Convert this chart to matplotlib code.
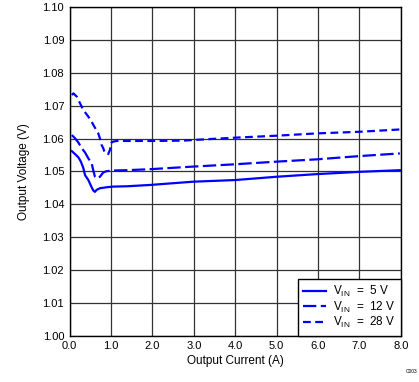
import matplotlib
matplotlib.use("Agg")
import matplotlib.pyplot as plt

plt.rcParams['font.family'] = ['Liberation Sans', 'DejaVu Sans']
plt.rcParams['mathtext.fontset'] = 'custom'
plt.rcParams['mathtext.rm'] = 'Liberation Sans'

# Data (Output current in A, output voltage in V)
i_5v = [0.05, 0.13, 0.21, 0.27, 0.33, 0.37, 0.45, 0.53, 0.57, 0.61, 0.65, 0.73, 0.89, 1.05,
        1.38, 1.94, 2.99, 4.0, 5.0, 5.97, 7.01, 7.98]
v_5v = [1.0562, 1.0553, 1.0543, 1.0530, 1.0510, 1.0489, 1.0474, 1.0452, 1.0442, 1.0438, 1.0444,
        1.0449, 1.0452, 1.0454, 1.0455, 1.0459, 1.0469, 1.0474, 1.0484, 1.0492, 1.0499, 1.0504]

i_12v = [0.05, 0.13, 0.21, 0.29, 0.37, 0.45, 0.53, 0.57, 0.61, 0.65, 0.73, 0.81, 0.89, 1.05,
         1.38, 1.94, 2.99, 4.0, 5.0, 5.97, 7.01, 7.98]
v_12v = [1.0611, 1.0601, 1.0588, 1.0571, 1.0558, 1.0540, 1.0525, 1.0503, 1.0484, 1.0479, 1.0484,
         1.0497, 1.0501, 1.0503, 1.0504, 1.0507, 1.0515, 1.0522, 1.0530, 1.0537, 1.0547, 1.0555]

i_28v = [0.05, 0.09, 0.17, 0.21, 0.29, 0.33, 0.45, 0.53, 0.57, 0.69, 0.73, 0.77, 0.81, 0.85,
         0.93, 0.97, 1.01, 1.05, 1.14, 1.38, 1.94, 2.74, 2.99, 4.0, 5.0, 5.97, 7.01, 7.98]
v_28v = [1.0733, 1.0738, 1.0728, 1.0718, 1.0697, 1.0687, 1.0667, 1.0652, 1.0642, 1.0616, 1.0601,
         1.0581, 1.0571, 1.0556, 1.0553, 1.0565, 1.0588, 1.0591, 1.0593, 1.0593, 1.0593, 1.0594,
         1.0596, 1.0603, 1.0609, 1.0616, 1.0621, 1.0628]

labels = [r'V$_{\mathregular{IN}}$  =  5 V', r'V$_{\mathregular{IN}}$  =  12 V', r'V$_{\mathregular{IN}}$  =  28 V']

x_ticks = [0, 1, 2, 3, 4, 5, 6, 7, 8]
y_ticks = [1.00, 1.01, 1.02, 1.03, 1.04, 1.05, 1.06, 1.07, 1.08, 1.09, 1.10]

fig = plt.figure(figsize=(4.19, 3.82), dpi=100)
ax = fig.add_axes([0.1664, 0.1212, 0.9563 - 0.1664, 0.9809 - 0.1212])

blue = '#0000ff'
lw = 1.6
ax.plot(i_5v, v_5v, color=blue, lw=lw, linestyle='-', label=labels[0])
ax.plot(i_12v, v_12v, color=blue, lw=lw, linestyle=(0, (6, 2)), label=labels[1])
ax.plot(i_28v, v_28v, color=blue, lw=lw, linestyle=(0, (3.5, 2)), label=labels[2])

ax.set_xlim(0, 8)
ax.set_ylim(1.00, 1.10)
ax.set_xticks(x_ticks)
ax.set_xticklabels([f'{v:.1f}' for v in x_ticks])
ax.set_yticks(y_ticks)
ax.set_yticklabels([f'{v:.2f}' for v in y_ticks])
ax.tick_params(axis='both', length=0, labelsize=8, pad=4, colors='black')
ax.grid(True, color='#333333', lw=0.9)
ax.set_axisbelow(True)
for s in ax.spines.values():
    s.set_color('black')
    s.set_linewidth(1.0)

ax.set_xlabel('Output Current (A)', fontsize=8.5, labelpad=3)
ax.set_ylabel('Output Voltage (V)', fontsize=8.5, labelpad=9)

leg = ax.legend(loc='lower right', fontsize=8.5, frameon=True, fancybox=False,
                edgecolor='black', framealpha=1, borderaxespad=0, handlelength=1.9,
                borderpad=0.45, labelspacing=0.05, handletextpad=0.6)
leg.get_frame().set_linewidth(1.0)

fig.text(0.995, 0.02, 'C003', fontsize=3.5, ha='right', va='bottom')

fig.savefig('out.png', dpi=100)
